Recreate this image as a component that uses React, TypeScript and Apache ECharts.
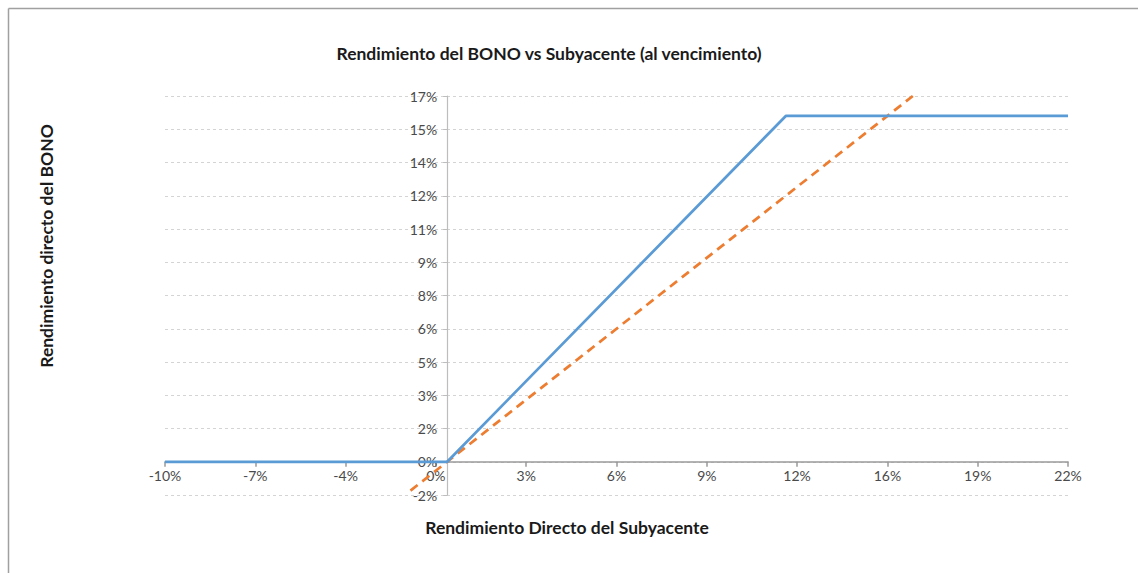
import React, { useEffect, useRef } from "react";
import * as echarts from "echarts";

const titleText = "Rendimiento del BONO vs Subyacente (al vencimiento)";
const xAxisName = "Rendimiento Directo del Subyacente";
const yAxisName = "Rendimiento directo del BONO";

// Excel-style axis: -10% .. 22% in steps of 3.2%
const xTicks = [-10, -6.8, -3.6, -0.4, 2.8, 6, 9.2, 12.4, 15.6, 18.8, 22];
const xMin = -10;
const xMax = 22;
const yMin = -1.5;
const yMax = 16.5;
const yStep = 1.5;

// Bond return (capped) vs underlying
const bonoPoints: [number, number][] = [
  [-10, 0],
  [0, 0],
  [12, 15.6],
  [22, 15.6],
];
// Underlying direct return (45° reference line)
const subyacentePoints: [number, number][] = [
  [-1.3, -1.3],
  [16.5, 16.5],
];

const pct = (v: number) => {
  const r = Math.round(Math.abs(v) + 1e-9);
  if (r === 0) return "0%";
  return (v < 0 ? "-" : "") + r + "%";
};

const FONT = "Lato, 'Open Sans', sans-serif";

const W = 1138;
const H = 573;
const G = { left: 165, right: 70, top: 96, bottom: 78 };

export default function App() {
  const ref = useRef<HTMLDivElement>(null);
  useEffect(() => {
    if (!ref.current) return;
    const chart = echarts.init(ref.current, undefined, { renderer: "svg" });
    // axes cross at zero (Excel style): shift each axis onto the other's zero
    const plotW = W - G.left - G.right;
    const plotH = H - G.top - G.bottom;
    const xZeroOffset = -((0 - xMin) / (xMax - xMin)) * plotW;
    const yZeroOffset = -((0 - yMin) / (yMax - yMin)) * plotH;
    chart.setOption({
      animation: false,
      backgroundColor: "#ffffff",
      textStyle: { fontFamily: FONT },
      grid: G,
      xAxis: {
        type: "value",
        min: xMin,
        max: xMax,
        offset: yZeroOffset,
        axisLine: { show: true, onZero: false, lineStyle: { color: "#9a9a9a", width: 1.5 } },
        axisTick: {
          show: true,
          length: 5,
          customValues: xTicks,
          lineStyle: { color: "#9a9a9a", width: 1.5 },
        },
        axisLabel: {
          customValues: xTicks,
          formatter: (v: number) => pct(v),
          color: "#4a4a4a",
          fontSize: 14,
          fontFamily: FONT,
          margin: 7,
        },
        splitLine: { show: false },
      },
      yAxis: {
        type: "value",
        min: yMin,
        max: yMax,
        interval: yStep,
        offset: xZeroOffset,
        axisLine: { show: true, onZero: false, lineStyle: { color: "#bdbdbd", width: 1.2 } },
        axisTick: { show: true, length: 4, lineStyle: { color: "#bdbdbd" } },
        axisLabel: {
          formatter: (v: number) => pct(v),
          color: "#4a4a4a",
          fontSize: 14,
          fontFamily: FONT,
          margin: 10,
        },
        splitLine: {
          show: true,
          lineStyle: { color: "#d4d4d4", width: 1, type: [3, 3] },
        },
      },
      series: [
        {
          type: "line",
          name: "BONO",
          data: bonoPoints,
          showSymbol: false,
          symbol: "none",
          lineStyle: { color: "#5b9bd5", width: 2.75 },
          z: 3,
        },
        {
          type: "line",
          name: "Subyacente",
          data: subyacentePoints,
          showSymbol: false,
          symbol: "none",
          lineStyle: { color: "#ed7d31", width: 2.75, type: [9, 6] },
          z: 2,
        },
      ],
      graphic: [
        {
          type: "line",
          shape: { x1: 8.5, y1: 8.5, x2: 1138, y2: 8.5 },
          style: { stroke: "#a0a0a0", lineWidth: 1.5 },
        },
        {
          type: "line",
          shape: { x1: 8.5, y1: 8.5, x2: 8.5, y2: 573 },
          style: { stroke: "#a0a0a0", lineWidth: 1.5 },
        },
        {
          type: "text",
          x: 549,
          y: 53,
          style: {
            text: titleText,
            fontSize: 17.5,
            fontWeight: "bold",
            fontFamily: FONT,
            fill: "#1a1a1a",
            textAlign: "center",
            textVerticalAlign: "middle",
          },
        },
        {
          type: "text",
          x: 567,
          y: 527,
          style: {
            text: xAxisName,
            fontSize: 17.5,
            fontWeight: "bold",
            fontFamily: FONT,
            fill: "#1a1a1a",
            textAlign: "center",
            textVerticalAlign: "middle",
          },
        },
        {
          type: "text",
          x: 46,
          y: 246,
          rotation: Math.PI / 2,
          style: {
            text: yAxisName,
            fontSize: 17.5,
            fontWeight: "bold",
            fontFamily: FONT,
            fill: "#1a1a1a",
            textAlign: "center",
            textVerticalAlign: "middle",
          },
        },
      ],
    });
    return () => chart.dispose();
  }, []);
  return (
    <div
      ref={ref}
      style={{ position: "fixed", left: 0, top: 0, width: W, height: H }}
    />
  );
}
